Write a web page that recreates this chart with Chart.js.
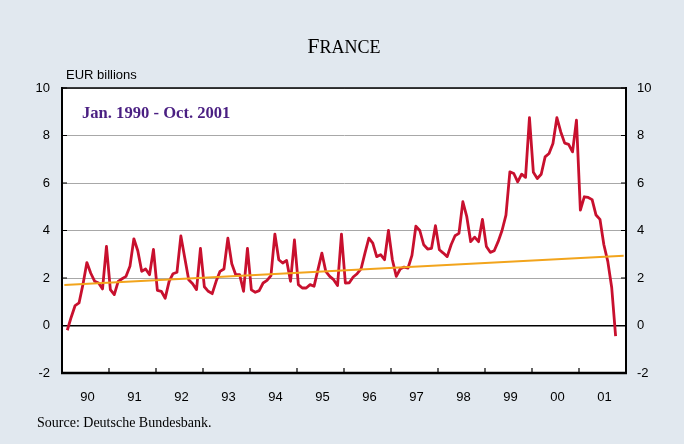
<!DOCTYPE html>
<html>
<head>
<meta charset="utf-8">
<script src="https://cdn.jsdelivr.net/npm/chart.js@4.4.1/dist/chart.umd.min.js"></script>
<style>
    body { margin: 0; background: #e1e8ef; }
    #wrap { position: relative; width: 684px; height: 444px; }
    #chart { position: absolute; left: 0; top: 0; }
    .txt { position: absolute; white-space: nowrap; color: #000; }
    #title { left: 0; width: 688px; top: 35px; text-align: center; font-family: 'Liberation Serif', 'Times New Roman', serif; font-size: 22px; line-height: 22px; }
    #title span { font-size: 18px; }
    #unit { left: 66px; top: 68px; font-family: 'Liberation Sans', Arial, sans-serif; font-size: 13px; line-height: 13px; }
    #period { left: 82px; top: 105px; font-family: 'Liberation Serif', 'Times New Roman', serif; font-weight: bold; font-size: 16.6px; line-height: 16.6px; color: #4a1f82; }
    #source { left: 37px; top: 416px; font-family: 'Liberation Serif', 'Times New Roman', serif; font-size: 14px; line-height: 14px; }
</style>
</head>
<body>
<div id="wrap">
    <canvas id="chart" width="684" height="444"></canvas>
    <div class="txt" id="title">F<span>RANCE</span></div>
    <div class="txt" id="unit">EUR billions</div>
    <div class="txt" id="period">Jan. 1990 - Oct. 2001</div>
    <div class="txt" id="source">Source: Deutsche Bundesbank.</div>
</div>
<script>
// year labels on the x axis
let yearLabels = [ '90', '91', '92', '93', '94', '95', '96', '97', '98', '99', '00', '01' ];

// monthly values, EUR billions
let monthlyValues = [
    -0.2, 0.35, 0.84, 0.95, 1.73, 2.65, 2.2, 1.86, 1.79, 1.54, 3.33, 1.51,
    1.3, 1.86, 1.97, 2.07, 2.49, 3.65, 3.15, 2.28, 2.38, 2.14, 3.2, 1.48,
    1.44, 1.15, 1.86, 2.18, 2.24, 3.77, 2.84, 1.93, 1.76, 1.51, 3.25, 1.63,
    1.44, 1.34, 1.86, 2.28, 2.38, 3.68, 2.6, 2.14, 2.14, 1.44, 3.25, 1.5,
    1.4, 1.47, 1.79, 1.9, 2.1, 3.85, 2.77, 2.63, 2.74, 1.86, 3.6, 1.72,
    1.58, 1.58, 1.72, 1.65, 2.35, 3.05, 2.28, 2.07, 1.93, 1.68, 3.85, 1.79,
    1.8, 2.04, 2.18, 2.38, 3.05, 3.68, 3.47, 2.9, 2.98, 2.77, 4.0, 2.77,
    2.07, 2.38, 2.46, 2.42, 2.95, 4.18, 4.0, 3.4, 3.22, 3.25, 4.2, 3.19,
    3.05, 2.9, 3.4, 3.78, 3.88, 5.21, 4.58, 3.53, 3.72, 3.53, 4.47, 3.33,
    3.08, 3.15, 3.53, 4.0, 4.65, 6.47, 6.4, 6.05, 6.37, 6.24, 8.75, 6.45,
    6.19, 6.37, 7.1, 7.24, 7.66, 8.75, 8.15, 7.68, 7.63, 7.31, 8.65, 4.86,
    5.42, 5.39, 5.3, 4.65, 4.47, 3.4, 2.7, 1.6, -0.45
];

// linear trend, start and end
let trendYears  = [ 1990.05, 2001.95 ];
let trendValues = [ 1.71, 2.94 ];

// y axis ticks
let yMin  = -2;
let yMax  = 10;
let yStep = 2;

let firstYear   = 1990;
let monthOffset = 1.35;

let seriesPoints = monthlyValues.map( ( v, k ) => ( { x: firstYear + ( k + monthOffset ) / 12, y: v } ) );
let trendPoints  = trendYears.map( ( t, i ) => ( { x: t, y: trendValues[ i ] } ) );

let tickFont = { family: "'Liberation Sans', Arial, sans-serif", size: 13 };

// white plot area, frame and inward tick marks
let framePlugin = {
    id: 'frame',
    beforeDraw: ( chart ) => {
        let a = chart.chartArea, ctx = chart.ctx;
        ctx.save();
        ctx.fillStyle = '#ffffff';
        ctx.fillRect( a.left, a.top, a.right - a.left, a.bottom - a.top );
        ctx.restore();
    },
    afterDraw: ( chart ) => {
        let a = chart.chartArea, ctx = chart.ctx;
        let ys = chart.scales.y, xs = chart.scales.x;
        ctx.save();
        ctx.strokeStyle = '#000';
        ctx.lineWidth = 1.5;
        ctx.beginPath();
        ctx.moveTo( a.left, a.top );
        ctx.lineTo( a.right, a.top );
        ctx.stroke();
        ctx.lineWidth = 1.2;
        ctx.beginPath();
        for ( let v = yMin; v <= yMax; v += yStep ) {
            let py = ys.getPixelForValue( v );
            ctx.moveTo( a.left, py );
            ctx.lineTo( a.left + 5, py );
            ctx.moveTo( a.right - 5, py );
            ctx.lineTo( a.right, py );
        }
        for ( let i = 1; i < yearLabels.length; i++ ) {
            let px = xs.getPixelForValue( firstYear + i );
            ctx.moveTo( px, a.bottom );
            ctx.lineTo( px, a.bottom - 5 );
        }
        ctx.stroke();
        ctx.lineWidth = 2.5;
        ctx.beginPath();
        ctx.moveTo( a.left - 1, a.bottom );
        ctx.lineTo( a.right + 1, a.bottom );
        ctx.stroke();
        ctx.restore();
    }
};

let ctx = document.getElementById( 'chart' ).getContext( '2d' );
let chart = new Chart( ctx, {
    type: 'line',
    data: {
        datasets: [
            {
                label: 'Trend',
                data: trendPoints,
                borderColor: '#f2a41c',
                borderWidth: 2,
                pointRadius: 0,
                tension: 0
            },
            {
                label: 'France',
                data: seriesPoints,
                borderColor: '#c8102e',
                borderWidth: 2.8,
                pointRadius: 0,
                tension: 0,
                borderJoinStyle: 'round'
            }
        ]
    },
    options: {
        responsive: false,
        animation: false,
        layout: { padding: { top: 88, left: 0, right: 0, bottom: 0 } },
        plugins: {
            legend: { display: false },
            title: { display: false },
            tooltip: { enabled: false }
        },
        scales: {
            x: {
                type: 'linear',
                position: 'bottom',
                min: firstYear,
                max: firstYear + yearLabels.length,
                grid: { display: false, drawTicks: false },
                border: { display: false },
                afterBuildTicks: ( s ) => {
                    s.ticks = yearLabels.map( ( l, i ) => ( { value: firstYear + i + 0.54 } ) );
                },
                afterFit: ( s ) => { s.height = 71; },
                ticks: {
                    autoSkip: false,
                    maxRotation: 0,
                    padding: 17,
                    color: '#000',
                    font: tickFont,
                    callback: ( v, i ) => yearLabels[ i ]
                }
            },
            y: {
                position: 'left',
                min: yMin,
                max: yMax,
                afterFit: ( s ) => { s.width = 62; },
                grid: {
                    drawTicks: false,
                    color: ( c ) => ( c.tick.value === 0 || c.tick.value === yMin ) ? '#000' : '#a8a8a8',
                    lineWidth: ( c ) => c.tick.value === 0 ? 1.5 : 1
                },
                border: { display: true, color: '#000', width: 2 },
                ticks: { stepSize: yStep, padding: 12, color: '#000', font: tickFont }
            },
            y2: {
                position: 'right',
                min: yMin,
                max: yMax,
                afterFit: ( s ) => { s.width = 58; },
                grid: { display: false, drawTicks: false },
                border: { display: true, color: '#000', width: 2 },
                ticks: { stepSize: yStep, padding: 11, color: '#000', font: tickFont }
            }
        }
    },
    plugins: [ framePlugin ]
} );
</script>
</body>
</html>
